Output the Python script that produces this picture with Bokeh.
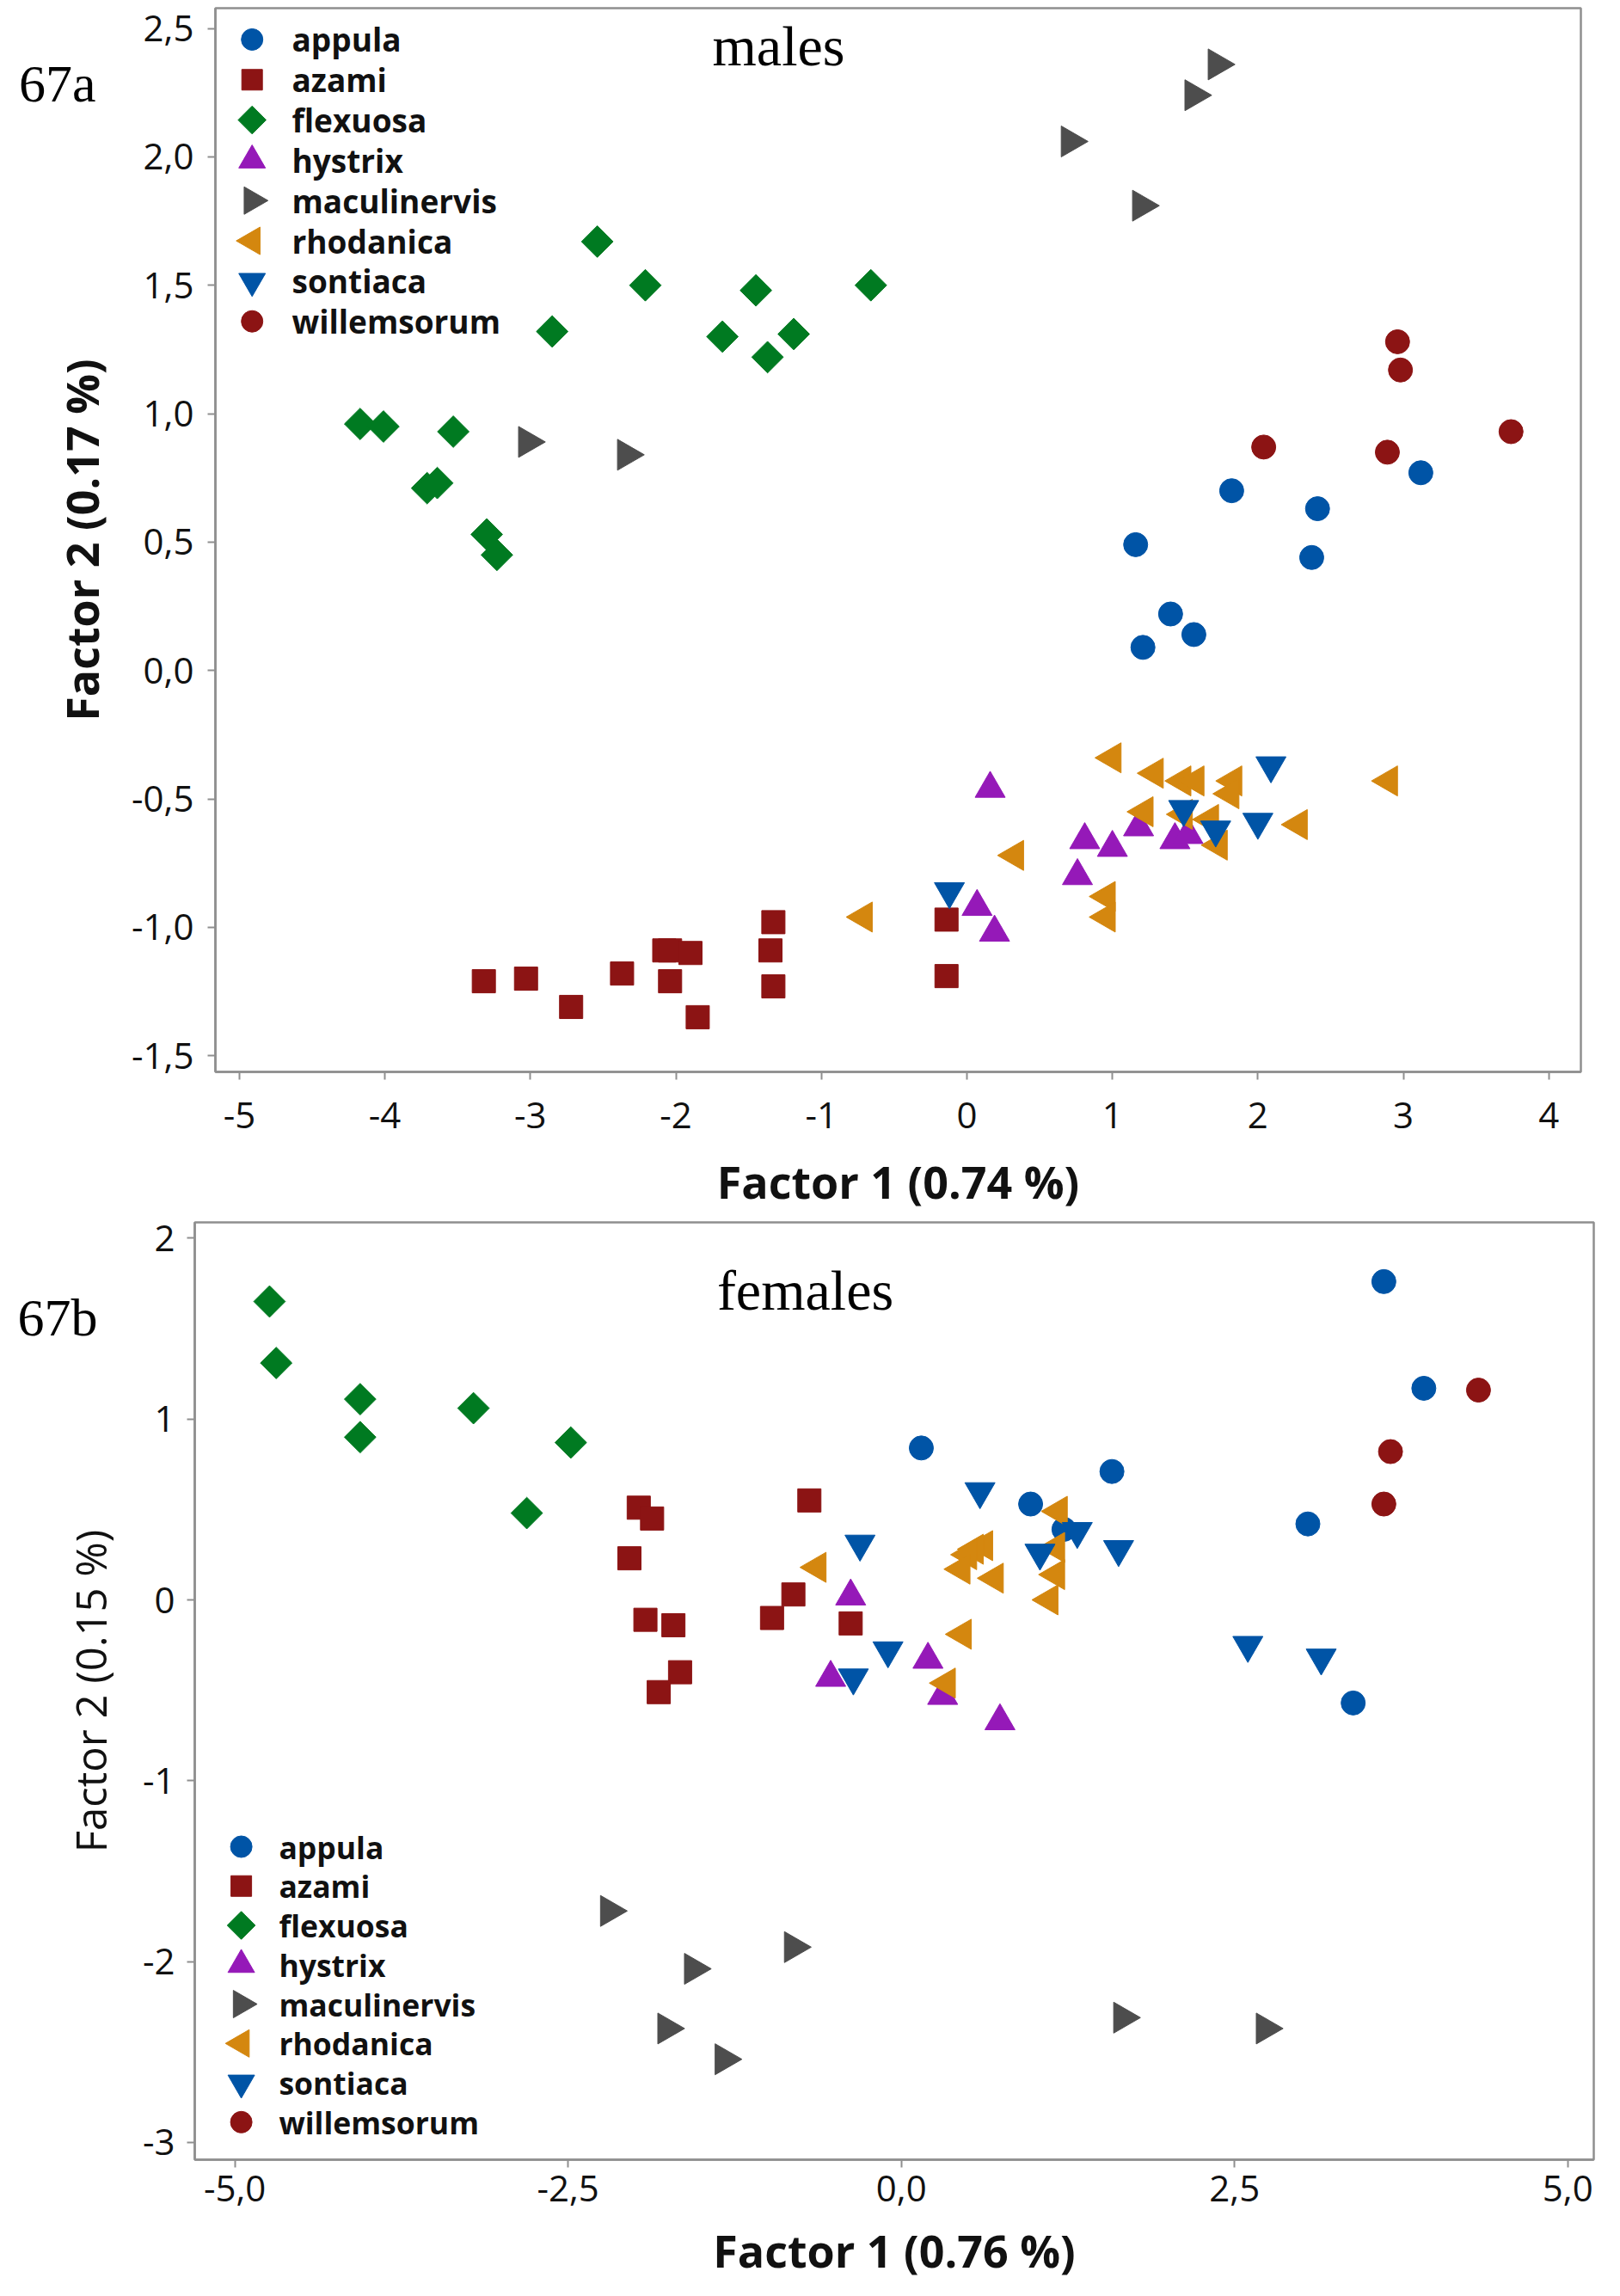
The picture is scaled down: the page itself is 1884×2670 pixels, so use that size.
import math
from bokeh.plotting import figure
from bokeh.models import Range1d, FixedTicker, Label, LinearAxis
from bokeh.embed import file_html
from bokeh.resources import INLINE
from bokeh.core.properties import value

# ---------------- data ----------------
species = ["appula", "azami", "flexuosa", "hystrix", "maculinervis", "rhodanica", "sontiaca", "willemsorum"]

# 67a males
appula_m_x = [1.16, 1.82, 2.41, 2.37, 3.12, 1.40, 1.56, 1.21]
appula_m_y = [0.49, 0.70, 0.63, 0.44, 0.77, 0.22, 0.14, 0.09]
azami_m_x = [-3.32, -3.03, -2.72, -2.37, -2.08, -2.04, -1.90, -2.04, -1.85, -1.33, -1.35, -1.33, -0.14, -0.14]
azami_m_y = [-1.21, -1.20, -1.31, -1.18, -1.09, -1.09, -1.10, -1.21, -1.35, -0.98, -1.09, -1.23, -0.97, -1.19]
flexuosa_m_x = [-2.54, -2.21, -1.45, -2.85, -1.68, -1.37, -1.19, -4.17, -4.01, -3.53, -3.71, -3.64, -3.30, -3.23, -0.66]
flexuosa_m_y = [1.67, 1.50, 1.48, 1.32, 1.30, 1.22, 1.31, 0.96, 0.95, 0.93, 0.71, 0.73, 0.53, 0.45, 1.50]
hystrix_m_x = [0.16, 0.81, 1.00, 0.76, 1.18, 1.43, 1.52, 0.07, 0.19]
hystrix_m_y = [-0.46, -0.66, -0.69, -0.80, -0.61, -0.66, -0.64, -0.92, -1.02]
maculinervis_m_x = [1.72, 1.56, 0.71, 1.20, -3.02, -2.34]
maculinervis_m_y = [2.36, 2.24, 2.06, 1.81, 0.89, 0.84]
rhodanica_m_x = [1.00, 1.29, 1.48, 1.57, 1.83, 1.81, 2.90, 1.22, 1.67, 1.49, 2.28, 1.73, 0.33, 0.96, 0.96, -0.71]
rhodanica_m_y = [-0.34, -0.40, -0.43, -0.43, -0.43, -0.48, -0.43, -0.55, -0.58, -0.56, -0.60, -0.68, -0.72, -0.88, -0.96, -0.96]
sontiaca_m_x = [2.09, 1.49, 1.71, 2.00, -0.12]
sontiaca_m_y = [-0.37, -0.54, -0.62, -0.59, -0.86]
willemsorum_m_x = [2.96, 2.98, 2.04, 2.89, 3.74]
willemsorum_m_y = [1.28, 1.17, 0.87, 0.85, 0.93]

# 67b females
appula_f_x = [3.62, 3.92, 0.15, 1.58, 0.97, 3.05, 3.39, 1.22]
appula_f_y = [1.76, 1.17, 0.84, 0.71, 0.53, 0.42, -0.57, 0.39]
azami_f_x = [-1.97, -1.87, -2.04, -1.92, -1.71, -1.66, -1.82, -0.97, -0.81, -0.69, -0.38]
azami_f_y = [0.51, 0.45, 0.23, -0.11, -0.14, -0.40, -0.51, -0.10, 0.03, 0.55, -0.13]
flexuosa_f_x = [-4.74, -4.69, -4.06, -4.06, -3.21, -2.48, -2.81]
flexuosa_f_y = [1.65, 1.31, 1.11, 0.90, 1.06, 0.87, 0.48]
hystrix_f_x = [-0.38, 0.20, -0.53, 0.31, 0.74]
hystrix_f_y = [0.02, -0.33, -0.43, -0.53, -0.67]
maculinervis_f_x = [-2.19, -1.56, -0.81, -1.76, -1.33, 1.66, 2.73]
maculinervis_f_y = [-1.72, -2.04, -1.92, -2.37, -2.54, -2.31, -2.37]
rhodanica_f_x = [1.18, 1.16, -0.63, 0.62, 0.55, 0.50, 0.45, 0.70, 1.16, 1.11, 0.46, 0.34]
rhodanica_f_y = [0.49, 0.29, 0.18, 0.30, 0.28, 0.25, 0.17, 0.12, 0.14, 0.00, -0.19, -0.46]
sontiaca_f_x = [0.59, 1.32, 1.63, -0.31, 1.04, -0.10, -0.36, 2.60, 3.15]
sontiaca_f_y = [0.60, 0.38, 0.28, 0.31, 0.26, -0.28, -0.43, -0.25, -0.32]
willemsorum_f_x = [4.33, 3.67, 3.62]
willemsorum_f_y = [1.16, 0.82, 0.53]

# ticks
m_xticks = [-5, -4, -3, -2, -1, 0, 1, 2, 3, 4]
m_xlabels = ["-5", "-4", "-3", "-2", "-1", "0", "1", "2", "3", "4"]
m_yticks = [-1.5, -1.0, -0.5, 0.0, 0.5, 1.0, 1.5, 2.0, 2.5]
m_ylabels = ["-1,5", "-1,0", "-0,5", "0,0", "0,5", "1,0", "1,5", "2,0", "2,5"]
f_xticks = [-5.0, -2.5, 0.0, 2.5, 5.0]
f_xlabels = ["-5,0", "-2,5", "0,0", "2,5", "5,0"]
f_yticks = [-3, -2, -1, 0, 1, 2]
f_ylabels = ["-3", "-2", "-1", "0", "1", "2"]

males = {
    "appula": (appula_m_x, appula_m_y), "azami": (azami_m_x, azami_m_y),
    "flexuosa": (flexuosa_m_x, flexuosa_m_y), "hystrix": (hystrix_m_x, hystrix_m_y),
    "maculinervis": (maculinervis_m_x, maculinervis_m_y), "rhodanica": (rhodanica_m_x, rhodanica_m_y),
    "sontiaca": (sontiaca_m_x, sontiaca_m_y), "willemsorum": (willemsorum_m_x, willemsorum_m_y),
}
females = {
    "appula": (appula_f_x, appula_f_y), "azami": (azami_f_x, azami_f_y),
    "flexuosa": (flexuosa_f_x, flexuosa_f_y), "hystrix": (hystrix_f_x, hystrix_f_y),
    "maculinervis": (maculinervis_f_x, maculinervis_f_y), "rhodanica": (rhodanica_f_x, rhodanica_f_y),
    "sontiaca": (sontiaca_f_x, sontiaca_f_y), "willemsorum": (willemsorum_f_x, willemsorum_f_y),
}

# ---------------- styles ----------------
COLORS = {
    "appula": "#0054A6", "azami": "#8C1414", "flexuosa": "#007A21", "hystrix": "#9519B8",
    "maculinervis": "#4D4D4D", "rhodanica": "#D4870F", "sontiaca": "#0054A6", "willemsorum": "#8C1414",
}
# marker, angle, plot size, legend size
MARKERS = {
    "appula": ("circle", 0.0, 28, 25),
    "azami": ("square", 0.0, 27, 24),
    "flexuosa": ("square", math.pi / 4, 26, 23),
    "hystrix": ("triangle", 0.0, 35, 31),
    "maculinervis": ("triangle", -math.pi / 2, 36, 32),
    "rhodanica": ("triangle", math.pi / 2, 35, 32),
    "sontiaca": ("inverted_triangle", 0.0, 35, 31),
    "willemsorum": ("circle", 0.0, 28, 25),
}
FRAME = "#8f8f8f"
TXT = "#111111"


def make_panel(data, cfg):
    fw, fh = cfg["frame_w"], cfg["frame_h"]
    p = figure(width=cfg["width"], height=cfg["height"],
               x_range=Range1d(*cfg["xr"]), y_range=Range1d(*cfg["yr"]),
               output_backend="svg", toolbar_location=None,
               min_border_left=cfg["bl"], min_border_right=cfg["br"],
               min_border_top=cfg["bt"], min_border_bottom=cfg["bb"],
               background_fill_color="white", border_fill_color="white")
    p.grid.visible = False
    p.outline_line_color = FRAME
    p.outline_line_width = 2.5
    p.extra_x_ranges = {"px": Range1d(0, fw)}
    p.extra_y_ranges = {"px": Range1d(fh, 0)}

    for ax, ticks, labels in ((p.xaxis[0], cfg["xticks"], cfg["xlabels"]),
                              (p.yaxis[0], cfg["yticks"], cfg["ylabels"])):
        ax.ticker = FixedTicker(ticks=ticks)
        ax.major_label_overrides = {t: l for t, l in zip(ticks, labels)}
        ax.axis_line_color = FRAME
        ax.axis_line_width = 2.5
        ax.major_tick_line_color = FRAME
        ax.major_tick_line_width = 2
        ax.major_tick_out = 9
        ax.major_tick_in = 0
        ax.minor_tick_line_color = None
        ax.major_label_text_font = "Open Sans"
        ax.major_label_text_font_size = "42px"
        ax.major_label_text_color = TXT
        ax.axis_label_text_font = "Open Sans"
        ax.axis_label_text_color = TXT

    p.xaxis.axis_label = cfg["xtitle"]
    p.yaxis.axis_label = cfg["ytitle"]
    p.xaxis.axis_label_text_font_size = cfg["xtitle_size"]
    p.yaxis.axis_label_text_font_size = cfg["ytitle_size"]
    p.xaxis.axis_label_text_font_style = cfg["xtitle_style"]
    p.yaxis.axis_label_text_font_style = cfg["ytitle_style"]
    p.xaxis.major_label_standoff = cfg["x_lab_so"]
    p.yaxis.major_label_standoff = cfg["y_lab_so"]
    p.xaxis.axis_label_standoff = cfg["x_tit_so"]
    p.yaxis.axis_label_standoff = cfg["y_tit_so"]

    # figure number ("67a"/"67b"): a bare outer left axis carrying one label
    ny, nt, nso = cfg["num"]
    num_axis = LinearAxis(y_range_name="px", ticker=FixedTicker(ticks=[ny]),
                          major_label_overrides={ny: nt},
                          axis_line_color=None, major_tick_line_color=None,
                          minor_tick_line_color=None, major_tick_out=0, major_tick_in=0,
                          major_label_standoff=nso,
                          major_label_text_font="Liberation Serif",
                          major_label_text_font_size="62px",
                          major_label_text_color="black")
    p.add_layout(num_axis, "left")

    # points
    for sp in species:
        xs, ys = data[sp]
        mk, ang, sz, _ = MARKERS[sp]
        p.scatter(x=xs, y=ys, marker=mk, angle=ang, size=sz,
                  fill_color=COLORS[sp], line_color=COLORS[sp], line_width=1)

    # legend (drawn in frame pixel space)
    lx, tx, ly0, dy = cfg["leg"]
    for i, sp in enumerate(species):
        mk, ang, _, lsz = MARKERS[sp]
        p.scatter(x=[lx], y=[ly0 + i * dy], marker=mk, angle=ang, size=lsz,
                  fill_color=COLORS[sp], line_color=COLORS[sp],
                  x_range_name="px", y_range_name="px")
    p.text(x=[tx] * len(species), y=[ly0 + i * dy for i in range(len(species))], text=species,
           text_font=value("Open Sans"), text_font_style="bold", text_font_size=cfg["leg_size"],
           text_color=TXT, text_baseline="middle", text_align="left",
           x_range_name="px", y_range_name="px")

    # sex label inside the frame
    sx, sy, st = cfg["sex"]
    p.add_layout(Label(x=sx, y=sy, text=st, x_range_name="px", y_range_name="px",
                       text_font="Liberation Serif", text_font_size="66px", text_color="black",
                       text_baseline="alphabetic", text_align="center"))
    return p


cfg_m = dict(width=1884, height=1411, frame_w=1588, frame_h=1239,
             bl=250, br=46, bt=9, bb=163,
             xr=(-5.165, 4.22), yr=(-1.563, 2.579),
             xticks=m_xticks, xlabels=m_xlabels, yticks=m_yticks, ylabels=m_ylabels,
             xtitle="Factor 1 (0.74 %)", ytitle="Factor 2 (0.17 %)",
             xtitle_size="52px", ytitle_size="52px", xtitle_style="bold", ytitle_style="bold",
             x_lab_so=26, y_lab_so=16, x_tit_so=23, y_tit_so=20,
             leg=(42.7, 89, 36.5, 46.9), leg_size="37px",
             num=(88, "67a", -55), sex=(655, 44, "males"))

cfg_f = dict(width=1884, height=1257, frame_w=1627, frame_h=1090,
             bl=226, br=31, bt=10, bb=157,
             xr=(-5.301, 5.195), yr=(-3.0955, 2.0875),
             xticks=f_xticks, xlabels=f_xlabels, yticks=f_yticks, ylabels=f_ylabels,
             xtitle="Factor 1 (0.76 %)", ytitle="Factor 2 (0.15 %)",
             xtitle_size="52px", ytitle_size="49px", xtitle_style="bold", ytitle_style="normal",
             x_lab_so=9, y_lab_so=14, x_tit_so=18, y_tit_so=25,
             leg=(54.1, 97.9, 726, 45.76), leg_size="35.5px",
             num=(110, "67b", -45), sex=(710, 79, "females"))

p1 = make_panel(males, cfg_m)
p2 = make_panel(females, cfg_f)

open("out.html", "w").write(file_html([p1, p2], INLINE))
